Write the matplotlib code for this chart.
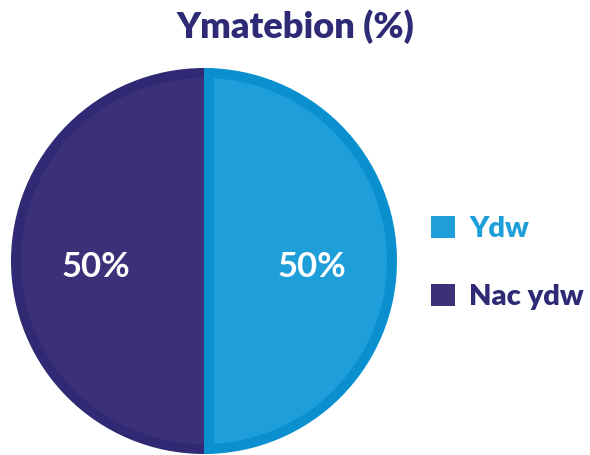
import matplotlib.pyplot as plt
from matplotlib.patches import Patch, Rectangle

labels = ['Ydw', 'Nac ydw']
values = [50, 50]
fill_colors = ['#1f9fda', '#3c3178']
edge_colors = ['#0a90cf', '#2f2a73']
text_colors = ['#1f9fda', '#2e2a76']

plt.rcParams['font.family'] = ['Lato', 'DejaVu Sans']

fig = plt.figure(figsize=(5.9, 4.55), dpi=100)
# centre of the pie at (204, 261) px, radius 193 px
cx, cy, r = 204, 261, 193
ax = fig.add_axes([(cx - r) / 590, (455 - cy - r) / 455, 2 * r / 590, 2 * r / 455])

b = 10 / r  # border thickness

# outer darker ring
outer, _ = ax.pie(values, colors=edge_colors, startangle=90, counterclock=False,
                  radius=1, wedgeprops=dict(linewidth=0))
# inner fill
inner, _, autotexts = ax.pie(values, colors=fill_colors, startangle=90, counterclock=False,
                             radius=1 - b, autopct='%d%%', pctdistance=0.59,
                             wedgeprops=dict(linewidth=0),
                             textprops=dict(color='white', fontsize=25, fontweight='bold'))
for t in autotexts:
    x, y = t.get_position()
    t.set_position((x, y - 0.03))

# darker strip along the divider on the blue side
strip = Rectangle((0, -1), b, 2, facecolor=edge_colors[0], linewidth=0)
ax.add_patch(strip)
strip.set_clip_path(outer[0])

ax.set_xlim(-1, 1)
ax.set_ylim(-1, 1)
ax.set_aspect('auto')
ax.axis('off')

fig.suptitle('Ymatebion (%)', x=0.5, y=0.98, fontsize=26, fontweight='heavy',
             color='#2e2a76')

handles = [Patch(facecolor=c, edgecolor='none') for c in fill_colors]
leg = fig.legend(handles, labels, loc='center left', bbox_to_anchor=(405 / 590, 1 - 263 / 455),
                 frameon=False, fontsize=21, handlelength=0.8, handleheight=0.8,
                 handletextpad=0.5, labelspacing=1.45)
for t, c in zip(leg.get_texts(), text_colors):
    t.set_color(c)
    t.set_fontweight('heavy')

fig.savefig('out.png', dpi=100)
